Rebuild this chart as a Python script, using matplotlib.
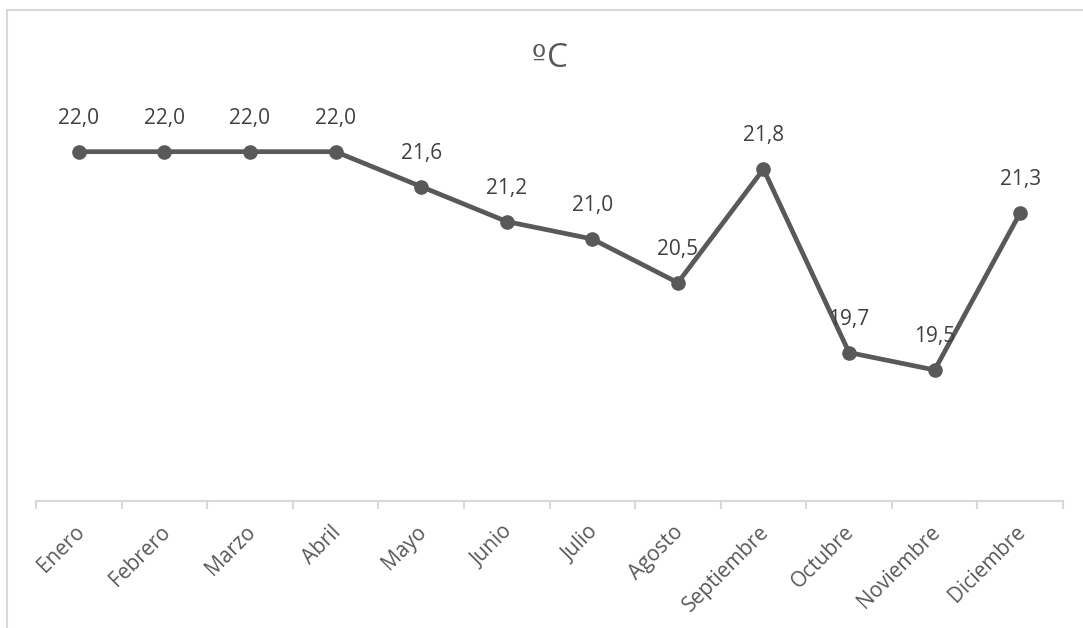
import matplotlib.pyplot as plt
from matplotlib.patches import Rectangle
from matplotlib.transforms import ScaledTranslation

meses = ['Enero', 'Febrero', 'Marzo', 'Abril', 'Mayo', 'Junio', 'Julio',
         'Agosto', 'Septiembre', 'Octubre', 'Noviembre', 'Diciembre']
temperaturas = [22.0, 22.0, 22.0, 22.0, 21.6, 21.2, 21.0, 20.5, 21.8, 19.7, 19.5, 21.3]

gris = '#595959'
plt.rcParams['font.family'] = ['Open Sans', 'DejaVu Sans']

fig = plt.figure(figsize=(10.83, 6.28), dpi=100)
ax = fig.add_axes([36 / 1083, 1 - 501 / 628, 1027 / 1083, 393 / 628])

# marco del area del grafico
fig.patches.append(Rectangle((7 / 1083, -0.05), 1.1, 1.05 - 10 / 628,
                             transform=fig.transFigure, fill=False,
                             edgecolor='#d9d9d9', linewidth=1.5))

x = list(range(len(meses)))
ax.plot(x, temperaturas, color=gris, linewidth=3.4, marker='o', markersize=9.5)

for xi, t in zip(x, temperaturas):
    ax.annotate(f'{t:.1f}'.replace('.', ','), (xi, t), xytext=(0, 24),
                textcoords='offset points', ha='center', va='center',
                fontsize=15, color='#404040')

ax.set_xlim(-0.5, len(meses) - 0.5)
ax.set_ylim(18, 22.5)
ax.set_yticks([])

for lado in ['top', 'right', 'left']:
    ax.spines[lado].set_visible(False)
ax.spines['bottom'].set_color('#d9d9d9')
ax.spines['bottom'].set_linewidth(1.5)

# marcas entre categorias
ax.set_xticks([i - 0.5 for i in range(len(meses) + 1)], minor=False)
ax.set_xticklabels([])
ax.tick_params(axis='x', which='major', length=6, width=1.5, color='#d9d9d9')
ax.set_xticks(x, minor=True)
ax.set_xticklabels(meses, minor=True, rotation=45, ha='right',
                   rotation_mode='anchor', fontsize=15, color=gris)
ax.tick_params(axis='x', which='minor', length=0, pad=12)
desplazamiento = ScaledTranslation(-5 / 100, -4 / 100, fig.dpi_scale_trans)
for etiqueta in ax.get_xticklabels(minor=True):
    etiqueta.set_transform(etiqueta.get_transform() + desplazamiento)

# titulo: el ordinal subrayado sale de DejaVu, la C de Open Sans
fig.text(546 / 1083, 1 - 67 / 628, 'º', ha='right', va='baseline', fontsize=22,
         color=gris, family='DejaVu Sans')
fig.text(547 / 1083, 1 - 67 / 628, 'C', ha='left', va='baseline', fontsize=24,
         color=gris)

fig.savefig('out.png', dpi=100)
